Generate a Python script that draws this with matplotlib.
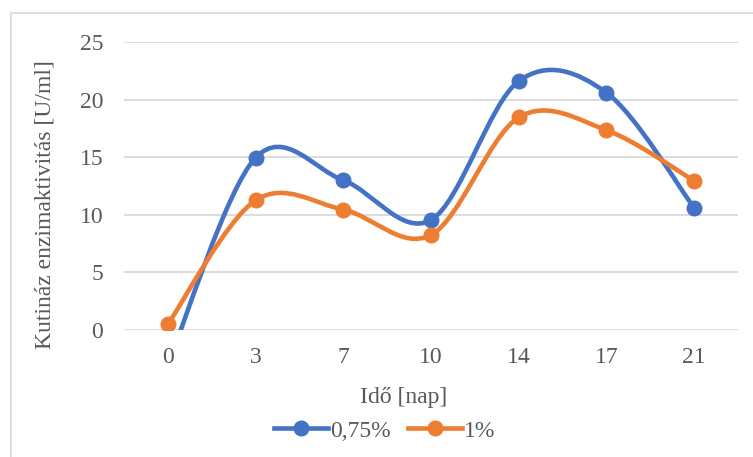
import matplotlib.pyplot as plt
import numpy as np
from matplotlib.path import Path
from matplotlib.patches import PathPatch, Rectangle
from matplotlib.lines import Line2D

plt.rcParams['font.family'] = ['Liberation Serif', 'DejaVu Serif']

days = ['0', '3', '7', '10', '14', '17', '21']
s075 = [-3.0, 14.95, 13.0, 9.55, 21.6, 20.6, 10.6]
s1 = [0.5, 11.25, 10.45, 8.25, 18.45, 17.35, 12.95]

blue = '#4472C4'
orange = '#ED7D31'
txt = '#595959'
fs = 17


def smooth_path(xs, ys):
    # excel-like smoothed line: cubic bezier segments, catmull-rom style handles
    pts = np.column_stack([xs, ys]).astype(float)
    n = len(pts)
    verts = [pts[0]]
    codes = [Path.MOVETO]
    for i in range(n - 1):
        p0 = pts[i - 1] if i > 0 else pts[i]
        p1 = pts[i]
        p2 = pts[i + 1]
        p3 = pts[i + 2] if i + 2 < n else pts[i + 1]
        verts += [p1 + (p2 - p0) / 6, p2 - (p3 - p1) / 6, p2]
        codes += [Path.CURVE4] * 3
    return Path(verts, codes)


fig = plt.figure(figsize=(7.53, 4.57), dpi=100)
W, H = 753, 457
fig.patches.append(Rectangle((11 / W, -0.1), 1.2, 1 - 13 / H + 0.1, transform=fig.transFigure,
                             fill=False, edgecolor='#d9d9d9', linewidth=1.2))

ax = fig.add_axes([124 / W, 1 - 330 / H, (738 - 124) / W, (330 - 42) / H])
x = np.arange(len(days))

for ys, c in [(s075, blue), (s1, orange)]:
    ax.add_patch(PathPatch(smooth_path(x, ys), facecolor='none', edgecolor=c,
                           linewidth=3.3, capstyle='round', zorder=3))
    ax.plot(x, ys, 'o', color=c, markersize=10.5, zorder=4)

ax.set_xlim(-0.5, len(days) - 0.5)
ax.set_ylim(0, 25)
ax.set_yticks([0, 5, 10, 15, 20, 25])
ax.set_xticks(x)
ax.set_xticklabels(days)
ax.grid(axis='y', color='#d9d9d9', linewidth=1.3)
ax.set_axisbelow(True)
for s in ax.spines.values():
    s.set_visible(False)
ax.tick_params(length=0, labelsize=fs, labelcolor=txt)
ax.tick_params(axis='y', pad=15)
ax.tick_params(axis='x', pad=12)

ax.set_ylabel('Kutináz enzimaktivitás [U/ml]', fontsize=fs, color=txt)
ax.yaxis.set_label_coords(-0.111, 0.434)
ax.set_xlabel('Idő [nap]', fontsize=fs, color=txt)
ax.xaxis.set_label_coords(0.455, -0.197)

handles = [Line2D([], [], color=blue, lw=3.3, marker='o', markersize=10.5),
           Line2D([], [], color=orange, lw=3.3, marker='o', markersize=10.5)]
fig.legend(handles, ['0,75%', '1%'], loc='center', bbox_to_anchor=(0.511, 1 - 431 / H),
           ncol=2, frameon=False, fontsize=fs, labelcolor=txt, handlelength=2.3,
           handletextpad=0.1, columnspacing=0.7)

fig.savefig('out.png', dpi=100)
